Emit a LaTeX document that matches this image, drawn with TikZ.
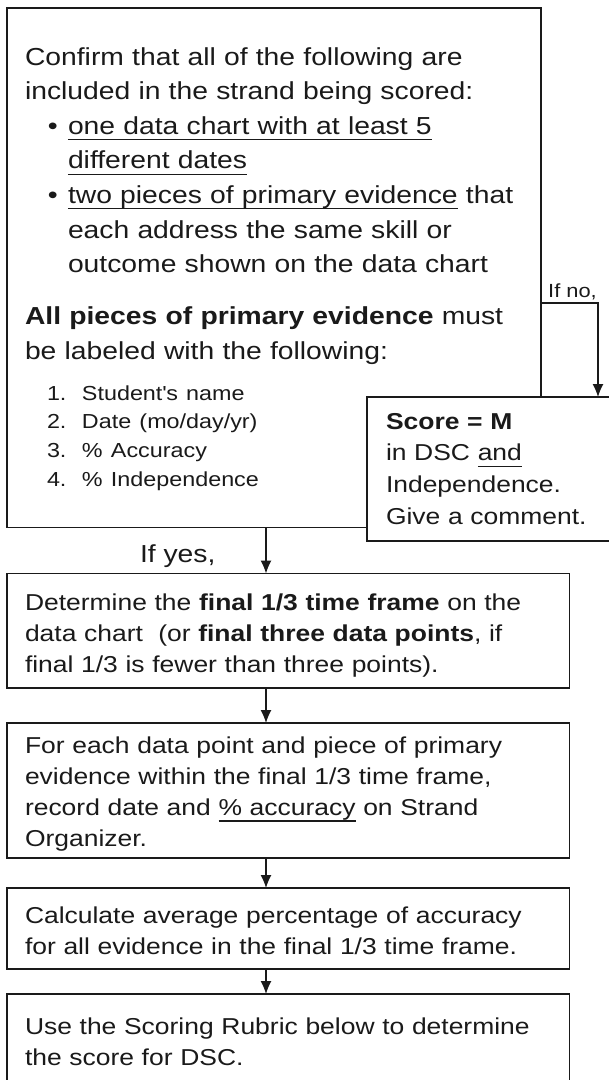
\documentclass[tikz,border=0pt]{standalone}
\usepackage{fontspec}
\setmainfont{Liberation Sans}[FakeStretch=1.15]
\usetikzlibrary{arrows.meta}

\definecolor{ink}{HTML}{1A1A1A}
\newsavebox{\ulsave}
\newcommand{\ulbox}[1]{\sbox\ulsave{#1}\rlap{\rule[-6pt]{\wd\ulsave}{1.2pt}}\usebox\ulsave}
\newcommand{\mainsize}{\fontsize{24.6pt}{34.6pt}\selectfont}
\newcommand{\boxsize}{\fontsize{23pt}{31.3pt}\selectfont}
\newcommand{\scoresize}{\fontsize{23pt}{31.8pt}\selectfont}
\newcommand{\listsize}{\fontsize{20.3pt}{28.7pt}\selectfont}
\newcommand{\notesize}{\fontsize{19pt}{22pt}\selectfont}

\begin{document}
\begin{tikzpicture}[x=1pt, y=-1pt,
    every node/.style={inner sep=0pt, outer sep=0pt, text=ink},
    stepbox/.style={draw=ink, fill=white, line width=1.3pt, anchor=north west,
        align=left, inner xsep=18pt, inner ysep=0pt, font=\boxsize},
    flow/.style={draw=ink, line width=1.3pt, -{Latex[length=13pt,width=11pt]}},
    note/.style={font=\notesize, anchor=base west}
    ]
    \useasboundingbox (0,0) rectangle (609,1080);
    \fill[white] (0,0) rectangle (609,1080);
    \clip (0,0) rectangle (609,1080);

    % Checklist box
    \node[stepbox, font=\mainsize, text width=498pt, text height=57pt, text depth=462.5pt] (check) at (7,8) {
        Confirm that all of the following are\\
        included in the strand being scored:\\
        \hspace*{23pt}\makebox[20pt][l]{\textbullet}\ulbox{one data chart with at least 5}\\
        \hspace*{43pt}\ulbox{different dates}\\
        \hspace*{23pt}\makebox[20pt][l]{\textbullet}\ulbox{two pieces of primary evidence} that\\
        \hspace*{43pt}each address the same skill or\\
        \hspace*{43pt}outcome shown on the data chart\par
        \vspace{17.4pt}
        \textbf{All pieces of primary evidence} must\\
        be labeled with the following:\par
        \vspace{12.3pt}
        {\listsize
        \hspace*{22pt}\makebox[35pt][l]{1.}Student\textquotesingle s name\\
        \hspace*{22pt}\makebox[35pt][l]{2.}Date (mo/day/yr)\\
        \hspace*{22pt}\makebox[35pt][l]{3.}\% Accuracy\\
        \hspace*{22pt}\makebox[35pt][l]{4.}\% Independence\par}
    };

    % Side branch
    \node[stepbox, font=\scoresize, inner xsep=19pt, text width=210pt, text height=32pt, text depth=112pt] (score) at (367,397) {
        \textbf{Score = M}\\
        in DSC \ulbox{and}\\
        Independence.\\
        Give a comment.
    };

    % Main steps
    \node[stepbox, text width=526.5pt, text height=36.5pt, text depth=78pt] (final) at (7,573.5) {
        Determine the \textbf{final 1/3 time frame} on the\\
        data chart \ (or \textbf{final three data points}, if\\
        final 1/3 is fewer than three points).
    };
    \node[stepbox, text width=526.5pt, text height=30pt, text depth=105pt] (record) at (7,723) {
        For each data point and piece of primary\\
        evidence within the final 1/3 time frame,\\
        record date and \ulbox{\% accuracy} on Strand\\
        Organizer.
    };
    \node[stepbox, text width=526.5pt, text height=35pt, text depth=46pt] (average) at (7,888) {
        Calculate average percentage of accuracy\\
        for all evidence in the final 1/3 time frame.
    };
    \node[stepbox, text width=526.5pt, text height=40pt, text depth=56pt] (rubric) at (7,994) {
        Use the Scoring Rubric below to determine\\
        the score for DSC.
    };

    % Connectors
    \coordinate (spine) at (266,0);
    \coordinate (nobend) at (598,303);
    \draw[flow] (check.east |- nobend) -- node[note, anchor=base, xshift=3pt, yshift=6pt] {If no,} (nobend) -- (score.north -| nobend);
    \draw[flow] (check.south -| spine) -- (final.north -| spine);
    \node[note, font=\mainsize] (yes) at (140,562) {If yes,};
    \draw[flow] (final.south -| spine) -- (record.north -| spine);
    \draw[flow] (record.south -| spine) -- (average.north -| spine);
    \draw[flow] (average.south -| spine) -- (rubric.north -| spine);
\end{tikzpicture}
\end{document}
